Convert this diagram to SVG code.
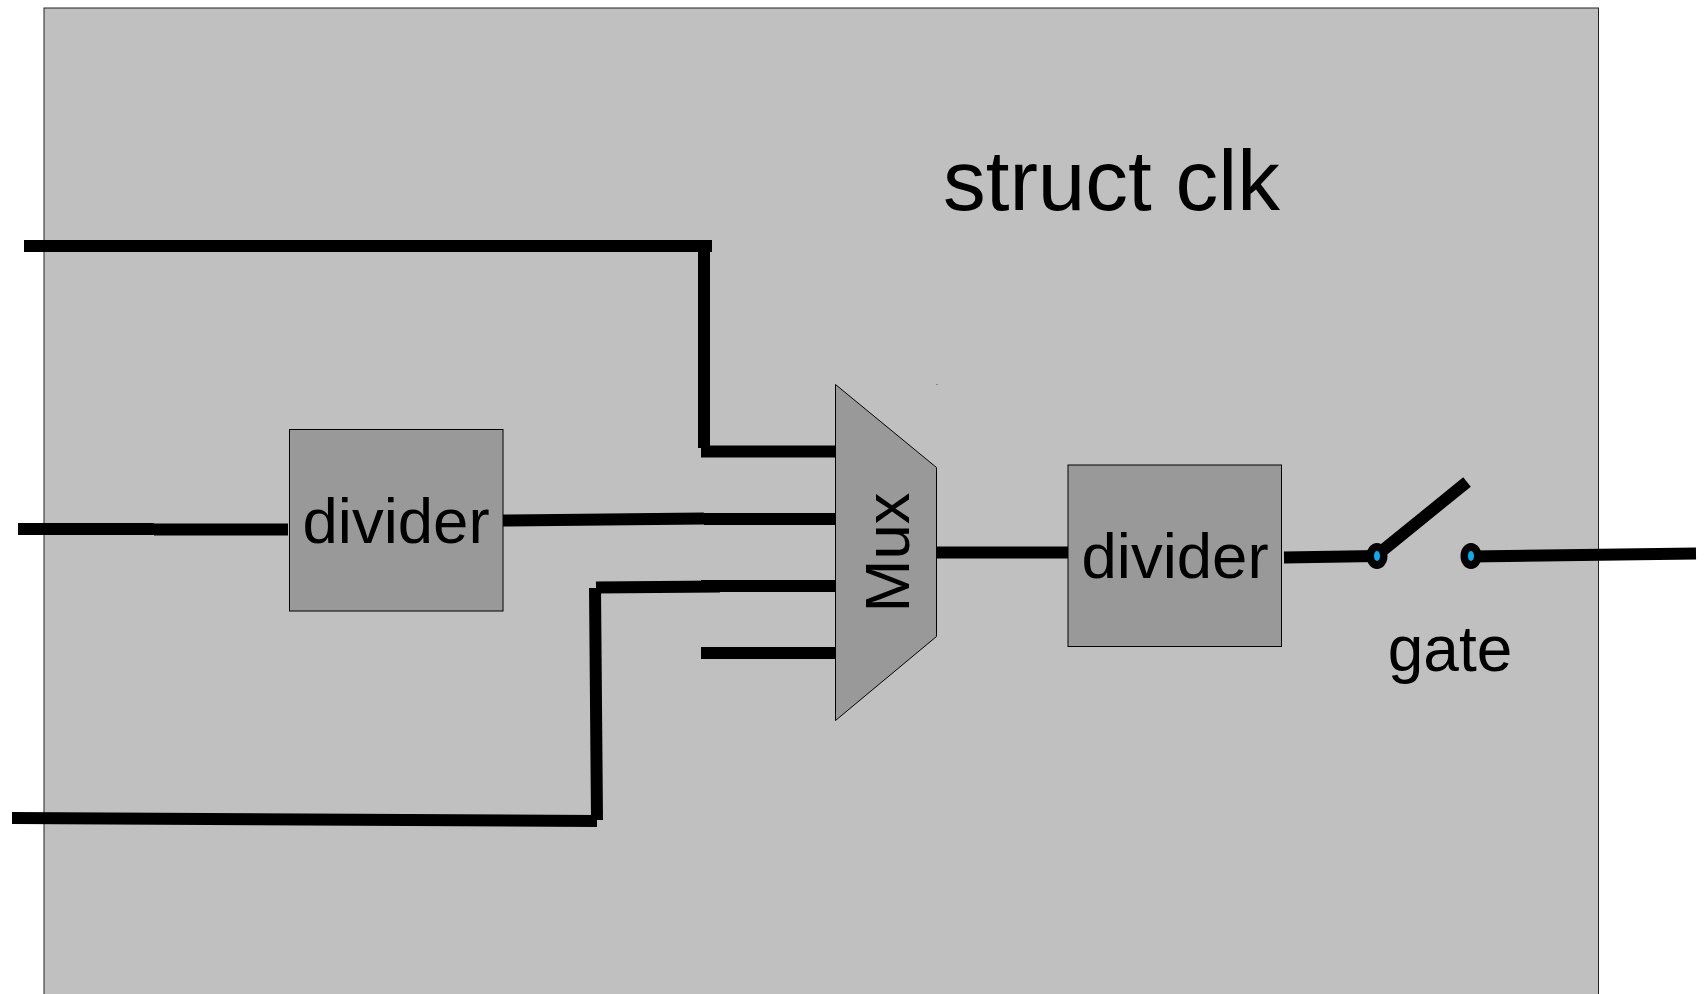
<svg xmlns="http://www.w3.org/2000/svg" width="1704" height="994" viewBox="0 0 1704 994">
<style>
.box{fill:#999999;stroke:#000000;stroke-width:1}
.w{fill:none;stroke:#000000;stroke-width:12;stroke-linecap:butt}
.t{font-family:"Liberation Sans",Arial,sans-serif;fill:#000000}
.dot{fill:#000000}
.in{fill:#00b0f0}
</style>
<g id="clk"><rect x="44" y="8" width="1554.5" height="1000" fill="#c0c0c0" stroke="#222222" stroke-width="1"/>
<text class="t" x="943" y="210" font-size="85.400">struct clk</text></g>
<g id="connectors">
<path class="w" d="M24 246H712"/>
<path class="w" d="M704 246V448"/>
<path class="w" d="M701 451.500H836"/>
<path class="w" d="M18 529H154"/>
<path class="w" d="M154 529.500H288"/>
<path class="w" d="M503 520.500L704 518.500"/>
<path class="w" d="M704 519H836"/>
<path class="w" d="M596 587.500L720 586.500"/>
<path class="w" d="M701 586H836"/>
<path class="w" d="M595 588L597 820"/>
<path class="w" d="M12 818L597 821"/>
<path class="w" d="M701 653H836"/>
<path class="w" d="M936 552.500H1068"/>
<path class="w" d="M1284 557.500L1377 556"/>
<path class="w" d="M1377 555L1467 482"/>
<path class="w" d="M1471 556.500L1696 553.500"/>
</g>
<g id="divider1"><rect class="box" x="289.500" y="429.500" width="213.500" height="181.500"/>
<text class="t" x="396" y="542.500" font-size="63.500" text-anchor="middle">divider</text></g>
<g id="mux"><path class="box" d="M835.500 384.500L936.500 467.500V636.500L835.500 720.500Z"/>
<text class="t" font-size="63.500" text-anchor="middle" transform="translate(908.500 552.500) rotate(-90)">Mux</text>
<rect x="936.500" y="384" width="1" height="1" fill="#555555"/></g>
<g id="divider2"><rect class="box" x="1068" y="465" width="213.500" height="181.500"/>
<text class="t" x="1175" y="577.500" font-size="63.500" text-anchor="middle">divider</text></g>
<g id="gate">
<ellipse class="dot" cx="1377" cy="556" rx="10.500" ry="13"/><ellipse class="in" cx="1377" cy="556" rx="3" ry="5"/>
<ellipse class="dot" cx="1471" cy="556" rx="10.500" ry="13"/><ellipse class="in" cx="1471" cy="556" rx="3" ry="5"/>
<text class="t" x="1450" y="671" font-size="64" text-anchor="middle">gate</text></g>
</svg>
